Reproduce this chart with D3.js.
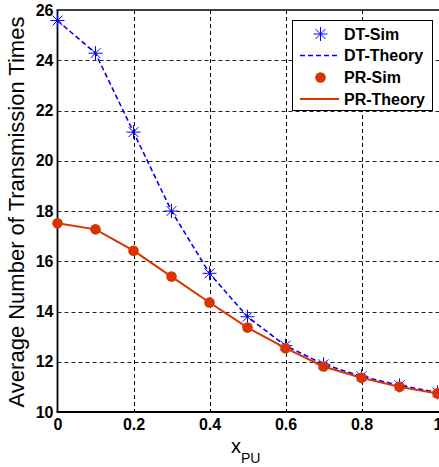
<!DOCTYPE html>
<html>
<head>
<meta charset="utf-8">
<script src="https://cdn.jsdelivr.net/npm/d3@7"></script>
<style>
  html, body { margin: 0; padding: 0; background: #fff; }
  svg { display: block; }
  text { font-family: "Liberation Sans", Arial, sans-serif; }
</style>
</head>
<body>
<svg id="chart" width="439" height="467"></svg>
<script>
// ---- data ----
const xValues = [0, 0.1, 0.2, 0.3, 0.4, 0.5, 0.6, 0.7, 0.8, 0.9, 1.0];
const dtSim = [25.58, 24.28, 21.14, 18.0, 15.52, 13.79, 12.64, 11.9, 11.42, 11.06, 10.78];
const dtTheory = [25.58, 24.28, 21.14, 18.0, 15.52, 13.79, 12.64, 11.9, 11.42, 11.06, 10.78];
const prSim = [17.51, 17.27, 16.42, 15.39, 14.36, 13.36, 12.54, 11.81, 11.36, 11.0, 10.74];
const prTheory = [17.51, 17.27, 16.42, 15.39, 14.36, 13.36, 12.54, 11.81, 11.36, 11.0, 10.74];
const xTicks = [0, 0.2, 0.4, 0.6, 0.8, 1];
const xTickLabels = ["0", "0.2", "0.4", "0.6", "0.8", "1"];
const yTicks = [10, 12, 14, 16, 18, 20, 22, 24, 26];
const legendLabels = ["DT-Sim", "DT-Theory", "PR-Sim", "PR-Theory"];

(function () {
const blue = "#0000ff";
const red = "#d93300";

const svg = d3.select("#chart");
const pLeft = 57.5, pRight = 437.5, pTop = 10, pBottom = 412;
const x = d3.scaleLinear().domain([0, 1]).range([pLeft, pRight]);
const y = d3.scaleLinear().domain([10, 26]).range([pBottom, pTop]);

// grid
const grid = svg.append("g");
grid.selectAll("line.gx").data(xTicks.slice(1, -1)).join("line")
  .attr("x1", d => Math.round(x(d)) + 0.5).attr("x2", d => Math.round(x(d)) + 0.5)
  .attr("y1", pTop).attr("y2", pBottom)
  .attr("stroke", "#000").attr("stroke-width", 1).attr("stroke-dasharray", "4,3");
grid.selectAll("line.gy").data(yTicks.slice(1, -1)).join("line")
  .attr("y1", d => Math.round(y(d)) + 0.5).attr("y2", d => Math.round(y(d)) + 0.5)
  .attr("x1", pLeft).attr("x2", 439)
  .attr("stroke", "#222").attr("stroke-width", 1).attr("stroke-dasharray", "4,3");

// axes
const xAxis = d3.axisBottom(x).tickValues(xTicks).tickFormat((d, i) => xTickLabels[i]).tickSize(0).tickPadding(7);
const yAxis = d3.axisLeft(y).tickValues(yTicks).tickFormat(d3.format("d")).tickSize(0).tickPadding(4);
const gx = svg.append("g").attr("transform", `translate(0,${pBottom})`).call(xAxis);
const gy = svg.append("g").attr("transform", `translate(${pLeft},0)`).call(yAxis);
[gx, gy].forEach(g => {
  g.select(".domain").remove();
  g.selectAll("text").attr("font-size", 16).attr("font-weight", "bold").attr("fill", "#000")
    .style("font-family", "'Liberation Sans', Arial, sans-serif");
});

// frame lines (left, bottom, top; right edge falls outside the picture)
svg.append("line").attr("x1", pLeft).attr("x2", pLeft).attr("y1", pTop).attr("y2", pBottom)
  .attr("stroke", "#000").attr("stroke-width", 1.8);
svg.append("line").attr("x1", pLeft - 0.9).attr("x2", 439).attr("y1", pBottom).attr("y2", pBottom)
  .attr("stroke", "#000").attr("stroke-width", 1.8);
svg.append("line").attr("x1", pLeft - 0.9).attr("x2", 439).attr("y1", pTop).attr("y2", pTop)
  .attr("stroke", "#000").attr("stroke-width", 1.5);

// series
const line = d3.line().x((d, i) => x(xValues[i])).y(d => y(d));
svg.append("path").datum(dtTheory).attr("d", line).attr("fill", "none")
  .attr("stroke", blue).attr("stroke-width", 1.6).attr("stroke-dasharray", "5,3");

const starPath = r => {
  const a = r * Math.SQRT1_2;
  return `M${-r},0L${r},0M0,${-r}L0,${r}M${-a},${-a}L${a},${a}M${-a},${a}L${a},${-a}`;
};
svg.append("g").selectAll("path").data(dtSim).join("path")
  .attr("transform", (d, i) => `translate(${x(xValues[i])},${y(d)})`)
  .attr("d", starPath(7)).attr("stroke", blue).attr("stroke-width", 1).attr("fill", "none");

svg.append("path").datum(prTheory).attr("d", line).attr("fill", "none")
  .attr("stroke", red).attr("stroke-width", 2);
svg.append("g").selectAll("circle").data(prSim).join("circle")
  .attr("cx", (d, i) => x(xValues[i])).attr("cy", d => y(d)).attr("r", 5.3)
  .attr("fill", red);

// axis titles
svg.append("text")
  .attr("transform", `translate(24,212) rotate(-90)`)
  .attr("text-anchor", "middle").attr("font-size", 22).attr("fill", "#000")
  .text("Average Number of Transmission Times");
const xt = svg.append("text").attr("x", 231).attr("y", 453).attr("font-size", 20).attr("fill", "#000");
xt.append("tspan").text("x");
xt.append("tspan").attr("font-size", 14).attr("dy", 10).text("PU");

// legend
const lg = svg.append("g");
lg.append("rect").attr("x", 292.5).attr("y", 20.5).attr("width", 140).attr("height", 90)
  .attr("fill", "#fff").attr("stroke", "#000").attr("stroke-width", 1);
const rowsY = [34, 55.5, 77.5, 99];
legendLabels.forEach((lab, i) => {
  const cy = rowsY[i];
  if (i === 0) lg.append("path").attr("transform", `translate(320.5,${cy})`).attr("d", starPath(7))
    .attr("stroke", blue).attr("stroke-width", 1).attr("fill", "none");
  if (i === 1) lg.append("line").attr("x1", 300).attr("x2", 339).attr("y1", cy).attr("y2", cy)
    .attr("stroke", blue).attr("stroke-width", 1.6).attr("stroke-dasharray", "5,3");
  if (i === 2) lg.append("circle").attr("cx", 320.5).attr("cy", cy).attr("r", 5.3).attr("fill", red);
  if (i === 3) lg.append("line").attr("x1", 300).attr("x2", 339).attr("y1", cy).attr("y2", cy)
    .attr("stroke", red).attr("stroke-width", 2);
  lg.append("text").attr("x", 344).attr("y", cy).attr("dy", "0.36em")
    .attr("font-size", 16).attr("font-weight", "bold").attr("fill", "#000").text(lab);
});
})();
</script>
</body>
</html>
